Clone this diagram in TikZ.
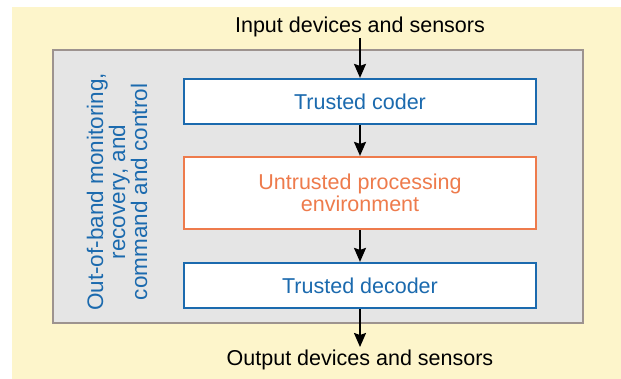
\documentclass[tikz,border=0pt]{standalone}
\usepackage{fontspec}
\setmainfont{Liberation Sans}
\usetikzlibrary{arrows.meta}
\definecolor{paneyellow}{HTML}{FDF5CB}
\definecolor{panegray}{HTML}{E5E5E5}
\definecolor{paneedge}{HTML}{9D938F}
\definecolor{trustblue}{HTML}{1B6AAE}
\definecolor{untrustorange}{HTML}{EE7B4C}
\tikzset{
  lbl/.style={font=\fontsize{21.5}{22.5}\selectfont},
  sidelbl/.style={font=\fontsize{22.5}{22}\selectfont},
  stagebox/.style={draw, line width=2.2pt, fill=white, minimum width=352pt,
    inner sep=0pt, align=center, lbl},
  trusted/.style={stagebox, draw=trustblue, text=trustblue, minimum height=45pt},
  untrusted/.style={stagebox, draw=untrustorange, text=untrustorange, minimum height=72pt},
  flow/.style={line width=1.8pt, -{Stealth[length=14pt,width=12pt,inset=2pt]}},
}
\begin{document}
\begin{tikzpicture}[x=1pt,y=-1pt]
  \useasboundingbox (0,0) rectangle (621,379);
  % background panels
  \fill[paneyellow] (12,7) rectangle (621,379);
  \draw[paneedge, fill=panegray, line width=2pt] (53,50) rectangle (583,323);

  % processing chain
  \node[trusted]   (coder)     at (360,101.5) {Trusted coder};
  \node[untrusted] (untrusted) at (360,193)   {Untrusted processing\\environment};
  \node[trusted]   (decoder)   at (360,285.5) {Trusted decoder};

  % external I/O
  \node[lbl, anchor=base] (input)  at (360,33)  {Input devices and sensors};
  \node[lbl, anchor=base] (output) at (360,365) {Output devices and sensors};
  \coordinate (inTop)  at (360,38);
  \coordinate (outEnd) at (360,347);

  % side annotation
  \node[sidelbl, text=trustblue, align=center, rotate=90] (oob) at (117,192)
    {Out-of-band monitoring,\\recovery, and\\command and control};

  % data flow
  \draw[flow] (inTop) -- (coder.north);
  \draw[flow] (coder.south) -- (untrusted.north);
  \draw[flow] (untrusted.south) -- (decoder.north);
  \draw[flow] (decoder.south) -- (outEnd);
\end{tikzpicture}
\end{document}
